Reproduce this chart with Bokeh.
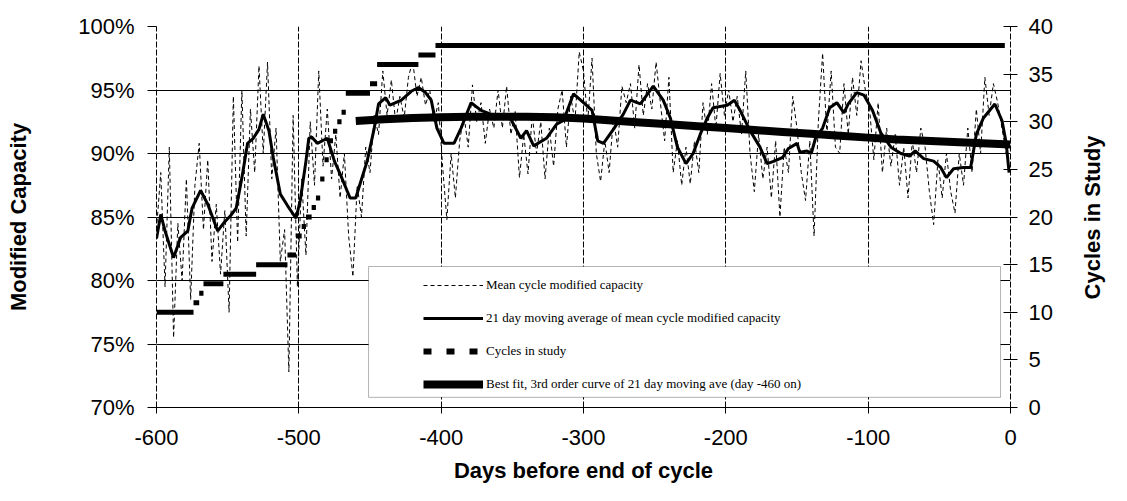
import numpy as np
from bokeh.plotting import figure
from bokeh.models import (Range1d, LinearAxis, FixedTicker, PrintfTickFormatter,
                          Legend, LegendItem, BoxAnnotation, ColumnDataSource, Label)
from bokeh.embed import file_html
from bokeh.resources import INLINE

# ---------------- data ----------------
# Mean cycle modified capacity (%), every 3 days from -600 to 0
mean_days = list(range(-600, 1, 3))
mean_vals = [
    84.0, 88.5, 79.5, 90.5, 75.5, 84.5, 80.0, 88.0, 78.5, 87.5,
    90.8, 84.0, 89.5, 81.5, 86.0, 80.5, 85.5, 77.5, 94.5, 83.0,
    95.0, 83.5, 93.5, 88.5, 96.9, 90.0, 97.2, 88.0, 92.0, 81.5,
    84.0, 72.8, 93.0, 79.5, 88.0, 82.0, 92.5, 87.5, 96.5, 89.0,
    93.5, 88.0, 91.5, 86.5, 90.0, 83.5, 80.3, 87.5, 85.0, 90.5,
    88.5, 93.0, 91.5, 96.5, 93.0, 95.8, 92.5, 94.5, 92.8, 96.0,
    97.3, 94.5, 96.0, 93.8, 95.0, 92.5, 94.0, 89.0, 84.8, 90.0,
    86.5, 91.0, 93.0, 90.5, 95.4, 92.5, 94.0, 90.8, 93.5, 92.0,
    95.0, 92.0, 95.3, 91.5, 93.3, 88.1, 91.5, 88.4, 93.0, 90.0,
    92.5, 88.0, 92.0, 89.0, 93.5, 95.0, 90.5, 94.5, 92.5, 98.0,
    96.5, 92.5, 97.5, 90.0, 87.8, 91.0, 88.5, 92.8, 90.5, 95.3,
    94.0, 95.5, 92.0, 97.0, 93.0, 95.5, 93.5, 97.2, 94.0, 91.0,
    96.0, 88.5, 91.0, 87.5, 90.5, 87.6, 91.0, 88.5, 94.0, 91.5,
    95.5, 92.0, 96.3, 93.0, 95.0, 92.5, 94.5, 91.5, 96.5, 90.0,
    87.0, 91.5, 88.0, 90.5, 86.5, 91.0, 85.0, 90.5, 88.5, 94.5,
    92.0, 88.5, 86.3, 91.0, 83.5, 92.5, 97.9, 91.5, 96.5, 90.5,
    90.0, 95.5, 91.5, 96.0, 93.0, 97.3, 95.0, 93.5, 89.5, 94.0,
    88.5, 92.0, 89.0, 91.5, 87.5, 90.5, 86.5, 91.0, 88.5, 92.0,
    90.5, 87.0, 84.4, 89.5, 86.5, 90.0, 87.0, 85.3, 90.0, 87.5,
    92.0, 88.5, 93.5, 90.0, 96.0, 93.0, 95.5, 94.0, 92.0, 90.0, 88.5,
]

# 21 day moving average (%)
ma_days = [-600, -597, -594, -588, -583, -580, -578, -575, -569, -564,
           -557, -553, -548, -544, -540, -536, -532, -528, -525, -521,
           -518, -513, -508, -502, -499, -495, -493, -491, -487, -480,
           -475, -471, -464, -460, -457, -452, -447, -444, -439, -436,
           -428, -421, -416, -411, -407, -403, -398, -391, -386, -379,
           -372, -363, -351, -344, -340, -335, -326, -319, -314, -307,
           -300, -294, -290, -286, -279, -272, -267, -260, -251, -244,
           -239, -234, -228, -223, -218, -213, -209, -199, -194, -190,
           -183, -176, -171, -166, -160, -156, -150, -148, -143, -140,
           -137, -132, -127, -122, -117, -114, -108, -103, -97, -91,
           -84, -77, -71, -67, -61, -54, -49, -45, -40, -33,
           -28, -26, -24, -19, -11, -6, -3, -1]
ma_vals = [83.3, 85.2, 83.9, 81.8, 83.4, 83.7, 83.9, 85.7, 87.1, 86.0,
           83.9, 84.5, 85.1, 85.7, 88.1, 90.8, 91.2, 91.9, 93.1, 91.8,
           89.7, 86.8, 85.9, 84.9, 86.3, 89.4, 91.2, 91.3, 90.8, 91.2,
           89.4, 88.4, 86.5, 86.5, 87.6, 89.4, 92.0, 93.9, 94.4, 93.8,
           94.2, 94.9, 95.2, 94.8, 94.2, 92.0, 90.8, 90.8, 92.0, 94.0,
           93.4, 93.0, 92.7, 91.2, 91.8, 90.6, 91.2, 92.3, 92.6, 94.7,
           94.0, 93.4, 91.0, 90.8, 91.9, 93.1, 94.2, 93.9, 95.3, 94.2,
           92.8, 90.5, 89.2, 90.0, 91.5, 92.8, 93.6, 93.8, 94.2, 93.4,
           91.8, 90.5, 89.2, 89.4, 89.7, 90.4, 90.8, 90.1, 90.2, 90.0,
           91.2, 92.0, 93.6, 94.0, 93.2, 93.9, 94.8, 94.6, 93.4, 91.6,
           90.5, 90.0, 89.8, 90.2, 89.6, 89.4, 88.9, 88.1, 88.8, 88.9,
           88.9, 90.2, 91.5, 92.8, 93.9, 92.6, 90.8, 88.5]

# Cycles in study (step: value from start day until next start)
cyc_start = [-600, -574, -570, -567, -553, -530, -508, -502, -498, -495,
             -491, -488, -485, -482, -479, -476, -473, -470, -467, -450,
             -445, -416, -404]
cyc_count = [10, 11, 12, 13, 14, 15, 16, 18, 19, 20,
             21, 22, 24, 26, 28, 29, 30, 31, 33, 34,
             36, 37, 38]
cyc_end = -4

# Best fit, 3rd order curve (day -460 on)
fit_days = [-460, -440, -420, -400, -380, -360, -340, -320, -300, -280,
            -260, -240, -220, -200, -180, -160, -140, -120, -100, -80,
            -60, -40, -20, 0]
fit_vals = [92.55, 92.7, 92.8, 92.85, 92.9, 92.9, 92.9, 92.85, 92.75, 92.6,
            92.45, 92.3, 92.15, 92.0, 91.85, 91.7, 91.55, 91.4, 91.25, 91.1,
            91.0, 90.9, 90.8, 90.7]

x_ticks = [-600, -500, -400, -300, -200, -100, 0]
y_ticks = [70, 75, 80, 85, 90, 95, 100]
cyc_ticks = [0, 5, 10, 15, 20, 25, 30, 35, 40]

# ---------------- figure ----------------
FONT = "Liberation Sans"
p = figure(width=1111, height=485, output_backend="svg", toolbar_location=None,
           x_range=Range1d(-600, 0), y_range=Range1d(70, 100),
           min_border_left=156, min_border_right=101,
           min_border_top=26, min_border_bottom=78)
p.outline_line_color = None
p.background_fill_color = "white"
p.border_fill_color = "white"
p.extra_y_ranges = {"cycles": Range1d(0, 40)}

# grids
p.xgrid.ticker = FixedTicker(ticks=x_ticks)
p.ygrid.ticker = FixedTicker(ticks=y_ticks)
p.xgrid.grid_line_color = "black"
p.xgrid.grid_line_dash = "6 2"
p.xgrid.grid_line_width = 1
p.ygrid.grid_line_color = "black"
p.ygrid.grid_line_width = 1

# bottom axis
xa = p.xaxis[0]
xa.ticker = FixedTicker(ticks=x_ticks)
xa.formatter = PrintfTickFormatter(format="%d")
xa.axis_label = "Days before end of cycle"
xa.major_tick_in = 0
xa.major_tick_out = 6
xa.minor_tick_out = 0
xa.minor_tick_in = 0
xa.major_label_standoff = 16
xa.axis_label_standoff = 10

# left axis
ya = p.yaxis[0]
ya.ticker = FixedTicker(ticks=y_ticks)
ya.formatter = PrintfTickFormatter(format="%d%%")
ya.axis_label = "Modified Capacity"
ya.major_tick_in = 0
ya.major_tick_out = 9
ya.minor_tick_out = 0
ya.minor_tick_in = 0
ya.major_label_standoff = 13
ya.axis_label_standoff = 44

# right axis (its title is drawn as a rotated Label in the right panel)
ra = LinearAxis(y_range_name="cycles", ticker=FixedTicker(ticks=cyc_ticks))
ra.major_tick_in = 7
ra.major_tick_out = 7
ra.minor_tick_in = 0
ra.minor_tick_out = 0
ra.major_label_standoff = 11
p.add_layout(ra, "right")

for ax in (xa, ya, ra):
    ax.axis_line_color = "black"
    ax.major_tick_line_color = "black"
    ax.major_label_text_font = FONT
    ax.major_label_text_font_size = "22px"
    ax.major_label_text_color = "black"
    ax.axis_label_text_font = FONT
    ax.axis_label_text_font_size = "22px"
    ax.axis_label_text_font_style = "bold"
    ax.axis_label_text_color = "black"
ya.axis_line_dash = "6 2"
ra.axis_line_dash = "6 2"

right_title = Label(x=37, y=190, x_units="screen", y_units="screen",
                    text="Cycles in Study", angle=np.pi / 2,
                    text_align="center", text_baseline="middle",
                    text_font=FONT, text_font_size="22px",
                    text_font_style="bold", text_color="black")
p.add_layout(right_title, "right")

# ---------------- glyphs ----------------
r_mean = p.line(mean_days, mean_vals, line_color="black", line_width=1,
                line_dash="4 3")
r_ma = p.line(ma_days, ma_vals, line_color="black", line_width=3)

cyc_src = ColumnDataSource(dict(
    x0=cyc_start, x1=cyc_start[1:] + [cyc_end], y=cyc_count))
p.segment(x0="x0", y0="y", x1="x1", y1="y", source=cyc_src,
          y_range_name="cycles", line_color="black", line_width=5,
          line_cap="butt")
# legend-only proxy for the cycles series
r_cyc_leg = p.line([np.nan], [np.nan], y_range_name="cycles",
                   line_color="black", line_width=6, line_dash="8 15")

r_fit = p.line(fit_days, fit_vals, line_color="black", line_width=8)

# ---------------- legend ----------------
box = BoxAnnotation(left=-451, right=-7, bottom=70.8, top=81.1,
                    fill_color="white", fill_alpha=1.0,
                    line_color="black", line_width=1)
p.add_layout(box)

legend = Legend(items=[
    LegendItem(label="Mean cycle modified capacity", renderers=[r_mean]),
    LegendItem(label="21 day moving average of mean cycle modified capacity", renderers=[r_ma]),
    LegendItem(label="Cycles in study", renderers=[r_cyc_leg]),
    LegendItem(label="Best fit, 3rd order curve of 21 day moving ave (day -460 on)", renderers=[r_fit]),
], location=(267, 13))
legend.glyph_width = 60
legend.glyph_height = 20
legend.label_height = 20
legend.spacing = 13
legend.padding = 8
legend.margin = 0
legend.label_standoff = 3
legend.label_text_font = "Liberation Serif"
legend.label_text_font_size = "13px"
legend.label_text_color = "black"
legend.background_fill_alpha = 0
legend.border_line_color = None
p.add_layout(legend)

open("out.html", "w").write(file_html(p, INLINE))
